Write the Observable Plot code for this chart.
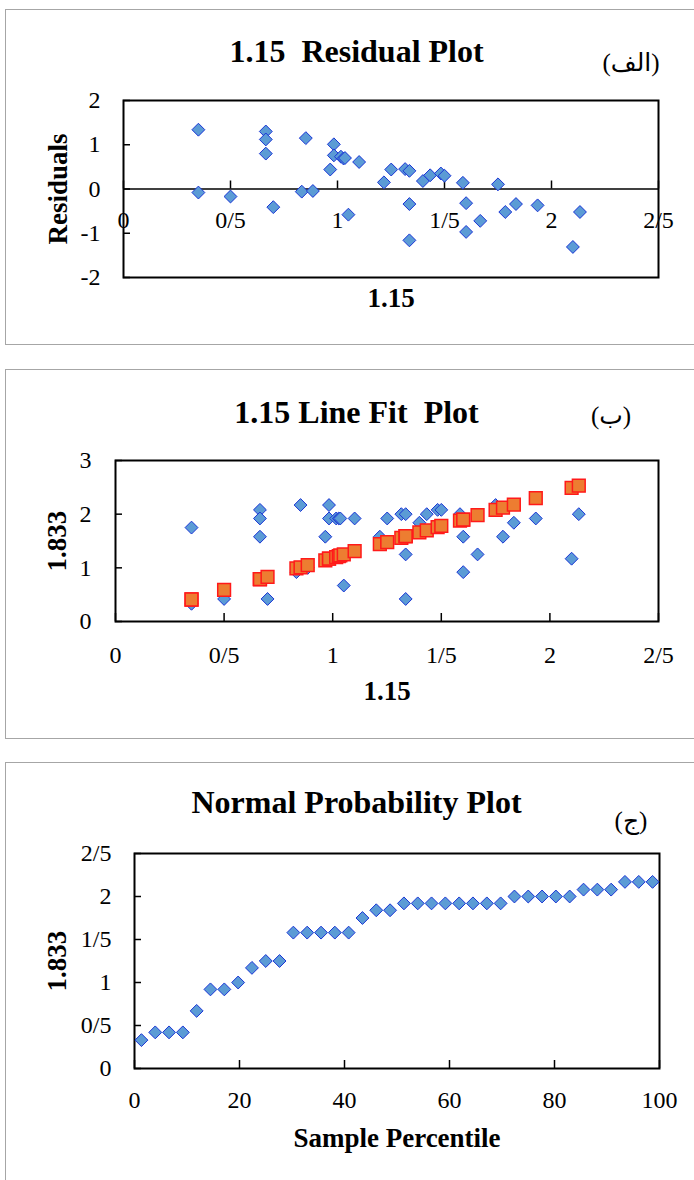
<!DOCTYPE html>
<html>
<head>
<meta charset="utf-8">
<script src="https://cdn.jsdelivr.net/npm/d3@7"></script>
<script src="https://cdn.jsdelivr.net/npm/@observablehq/plot@0.6"></script>
<style>
html, body { margin: 0; padding: 0; background: #fff; }
#page { position: relative; width: 694px; height: 1180px; overflow: hidden; background: #fff; }
.panel { position: absolute; box-sizing: border-box; border: 1.5px solid #a6a6a6; background: #fff; }
.chart { position: absolute; left: 0; }
</style>
</head>
<body>
<div id="page">
  <div class="panel" style="left:5px;top:9px;width:720px;height:336px"></div>
  <div class="panel" style="left:5px;top:369px;width:720px;height:370px"></div>
  <div class="panel" style="left:5px;top:762px;width:720px;height:500px"></div>
</div>
<script>
// ---------------- DATA ----------------
const xValues = [0.35, 0.35, 0.50, 0.665, 0.665, 0.665, 0.70, 0.833, 0.852, 0.885,
  0.966, 0.983, 0.983, 1.016, 1.028, 1.035, 1.051, 1.101, 1.217, 1.251,
  1.316, 1.336, 1.336, 1.336, 1.399, 1.433, 1.483, 1.50, 1.586, 1.601,
  1.601, 1.667, 1.75, 1.784, 1.834, 1.935, 2.10, 2.133];
const yValues = [1.75, 0.33, 0.42, 2.08, 1.92, 1.58, 0.42, 0.92, 2.17, 1.00,
  1.58, 2.17, 1.92, 1.92, 1.92, 1.92, 0.67, 1.92, 1.58, 1.92,
  2.00, 2.00, 1.25, 0.42, 1.84, 2.00, 2.08, 2.08, 2.00, 1.58,
  0.92, 1.25, 2.17, 1.58, 1.84, 1.92, 1.17, 2.00];
const predictedY = [0.41, 0.41, 0.59, 0.79, 0.79, 0.79, 0.83, 0.99, 1.01, 1.05,
  1.14, 1.17, 1.17, 1.20, 1.22, 1.23, 1.25, 1.31, 1.44, 1.48,
  1.56, 1.59, 1.59, 1.59, 1.66, 1.70, 1.76, 1.78, 1.88, 1.90,
  1.90, 1.98, 2.08, 2.12, 2.18, 2.30, 2.49, 2.53];
const residuals = [1.34, -0.08, -0.17, 1.30, 1.12, 0.80, -0.41, -0.06, 1.15, -0.045,
  0.44, 1.01, 0.76, 0.73, 0.69, 0.70, -0.58, 0.61, 0.15, 0.44,
  0.45, 0.41, -0.34, -1.16, 0.18, 0.31, 0.35, 0.30, 0.14, -0.32,
  -0.97, -0.72, 0.105, -0.52, -0.34, -0.37, -1.31, -0.52];
const percentiles = [1.32, 3.95, 6.58, 9.21, 11.84, 14.47, 17.11, 19.74, 22.37, 25.00,
  27.63, 30.26, 32.89, 35.53, 38.16, 40.79, 43.42, 46.05, 48.68, 51.32,
  53.95, 56.58, 59.21, 61.84, 64.47, 67.11, 69.74, 72.37, 75.00, 77.63,
  80.26, 82.89, 85.53, 88.16, 90.79, 93.42, 96.05, 98.68];
const probY = [0.33, 0.42, 0.42, 0.42, 0.67, 0.92, 0.92, 1.00, 1.17, 1.25,
  1.25, 1.58, 1.58, 1.58, 1.58, 1.58, 1.75, 1.84, 1.84, 1.92,
  1.92, 1.92, 1.92, 1.92, 1.92, 1.92, 1.92, 2.00, 2.00, 2.00,
  2.00, 2.00, 2.08, 2.08, 2.08, 2.17, 2.17, 2.17];

const xTicks = [0, 0.5, 1, 1.5, 2, 2.5];
const xTickLabels = ["0", "0/5", "1", "1/5", "2", "2/5"];
const resTicks = [-2, -1, 0, 1, 2];
const resTickLabels = ["-2", "-1", "0", "1", "2"];
const fitTicks = [0, 1, 2, 3];
const fitTickLabels = ["0", "1", "2", "3"];
const probTicks = [0, 0.5, 1, 1.5, 2, 2.5];
const probTickLabels = ["0", "0/5", "1", "1/5", "2", "2/5"];
const pctTicks = [0, 20, 40, 60, 80, 100];
const pctTickLabels = ["0", "20", "40", "60", "80", "100"];

const titles = ["1.15\u00a0 Residual Plot", "1.15 Line Fit\u00a0 Plot", "Normal Probability Plot"];
const tags = ["(الف)", "(ب)", "(ج)"];
const xTitles = ["1.15", "1.15", "Sample Percentile"];
const yTitles = ["Residuals", "1.833", "1.833"];

// ---------------- STYLE ----------------
const serif = "'Liberation Serif', 'Times New Roman', serif";
const tagFont = "'Liberation Serif', 'DejaVu Sans', sans-serif";
const diamondStyle = {symbol: "diamond2", r: 5.8, fill: "#5b9bd5", stroke: "#1a35d6", strokeWidth: 1};
const squareStyle = {symbol: "square", r: 7.2, fill: "#ed7d31", stroke: "#ff1a1a", strokeWidth: 1.5};
const fmt = (ticks, labels) => d => labels[ticks.indexOf(d)] ?? "";
const baseStyle = {fontFamily: serif, fontSize: "24px", color: "#000", background: "transparent", overflow: "visible"};
const axisText = {fontFamily: serif, fontSize: 24, strokeWidth: 1.5, label: null};

const page = document.getElementById("page");
function place(svg, top) {
  svg.classList.add("chart");
  svg.style.top = top + "px";
  page.appendChild(svg);
}

const idx = d3.range(xValues.length);

function decorations(i, o) {
  return [
    Plot.text([titles[i]], {text: d => d, frameAnchor: "top", lineAnchor: "middle", textAnchor: "middle",
      dx: o.titleDx, dy: o.titleDy, fontSize: 32, fontWeight: "bold", fontFamily: serif}),
    Plot.text([tags[i]], {text: d => d, frameAnchor: "top", lineAnchor: "middle", textAnchor: "middle",
      dx: o.tagDx, dy: o.tagDy, fontSize: 25, fontFamily: tagFont}),
    Plot.text([yTitles[i]], {text: d => d, frameAnchor: "left", lineAnchor: "middle", textAnchor: "middle",
      dx: o.yTitleDx, rotate: -90, fontSize: 27, fontWeight: "bold", fontFamily: serif}),
    Plot.text([xTitles[i]], {text: d => d, frameAnchor: "bottom", lineAnchor: "middle", textAnchor: "middle",
      dy: o.xTitleDy, fontSize: 27, fontWeight: "bold", fontFamily: serif})
  ];
}

// ---------------- PANEL 1: Residual plot ----------------
{
  const W = 694, H = 345, mt = 100, mb = 68, ml = 123, mr = 36;
  const yPix = d3.scaleLinear([-2, 2], [H - mb, mt]);
  const shift = yPix(0) - (H - mb);
  const svg = Plot.plot({
    width: W, height: H, marginTop: mt, marginBottom: mb, marginLeft: ml, marginRight: mr,
    x: {domain: [0, 2.5]}, y: {domain: [-2, 2]},
    style: baseStyle,
    marks: [
      Plot.ruleY([0], {stroke: "#000", strokeWidth: 1.5}),
      Plot.axisY({ticks: resTicks, tickFormat: fmt(resTicks, resTickLabels), tickSize: -7, tickPadding: 30, ...axisText}),
      Plot.axisX({ticks: xTicks, tickFormat: fmt(xTicks, xTickLabels), tickSize: -8, tickPadding: 30, dy: shift, ...axisText}),
      Plot.frame({stroke: "#000", strokeWidth: 2}),
      Plot.dot(idx, {x: i => xValues[i], y: i => residuals[i], ...diamondStyle}),
      ...decorations(0, {titleDx: -34.5, titleDy: -49, tagDx: 240, tagDy: -38, yTitleDx: -65, xTitleDy: 21})
    ]
  });
  place(svg, 0);
}

// ---------------- PANEL 2: Line fit plot ----------------
{
  const W = 694, H = 370, mt = 90, mb = 119, ml = 115, mr = 36;
  const svg = Plot.plot({
    width: W, height: H, marginTop: mt, marginBottom: mb, marginLeft: ml, marginRight: mr,
    x: {domain: [0, 2.5]}, y: {domain: [0, 3]},
    style: baseStyle,
    marks: [
      Plot.axisY({ticks: fitTicks, tickFormat: fmt(fitTicks, fitTickLabels), tickSize: -7, tickPadding: 31, ...axisText}),
      Plot.axisX({ticks: xTicks, tickFormat: fmt(xTicks, xTickLabels), tickSize: -8, tickPadding: 32, ...axisText}),
      Plot.frame({stroke: "#000", strokeWidth: 2}),
      Plot.dot(idx, {x: i => xValues[i], y: i => yValues[i], ...diamondStyle}),
      Plot.dot(idx, {x: i => xValues[i], y: i => predictedY[i], ...squareStyle}),
      ...decorations(1, {titleDx: -30.5, titleDy: -48, tagDx: 224, tagDy: -45, yTitleDx: -58, xTitleDy: 70})
    ]
  });
  place(svg, 370);
}

// ---------------- PANEL 3: Normal probability plot ----------------
{
  const W = 694, H = 417, mt = 90, mb = 112, ml = 134, mr = 35;
  const svg = Plot.plot({
    width: W, height: H, marginTop: mt, marginBottom: mb, marginLeft: ml, marginRight: mr,
    x: {domain: [0, 100]}, y: {domain: [0, 2.5]},
    style: baseStyle,
    marks: [
      Plot.axisY({ticks: probTicks, tickFormat: fmt(probTicks, probTickLabels), tickSize: -7, tickPadding: 30, ...axisText}),
      Plot.axisX({ticks: pctTicks, tickFormat: fmt(pctTicks, pctTickLabels), tickSize: -8, tickPadding: 30, ...axisText}),
      Plot.frame({stroke: "#000", strokeWidth: 2}),
      Plot.dot(idx, {x: i => percentiles[i], y: i => probY[i], ...diamondStyle}),
      ...decorations(2, {titleDx: -40.5, titleDy: -51, tagDx: 234, tagDy: -33, yTitleDx: -77, xTitleDy: 70})
    ]
  });
  place(svg, 763);
}
</script>
</body>
</html>
